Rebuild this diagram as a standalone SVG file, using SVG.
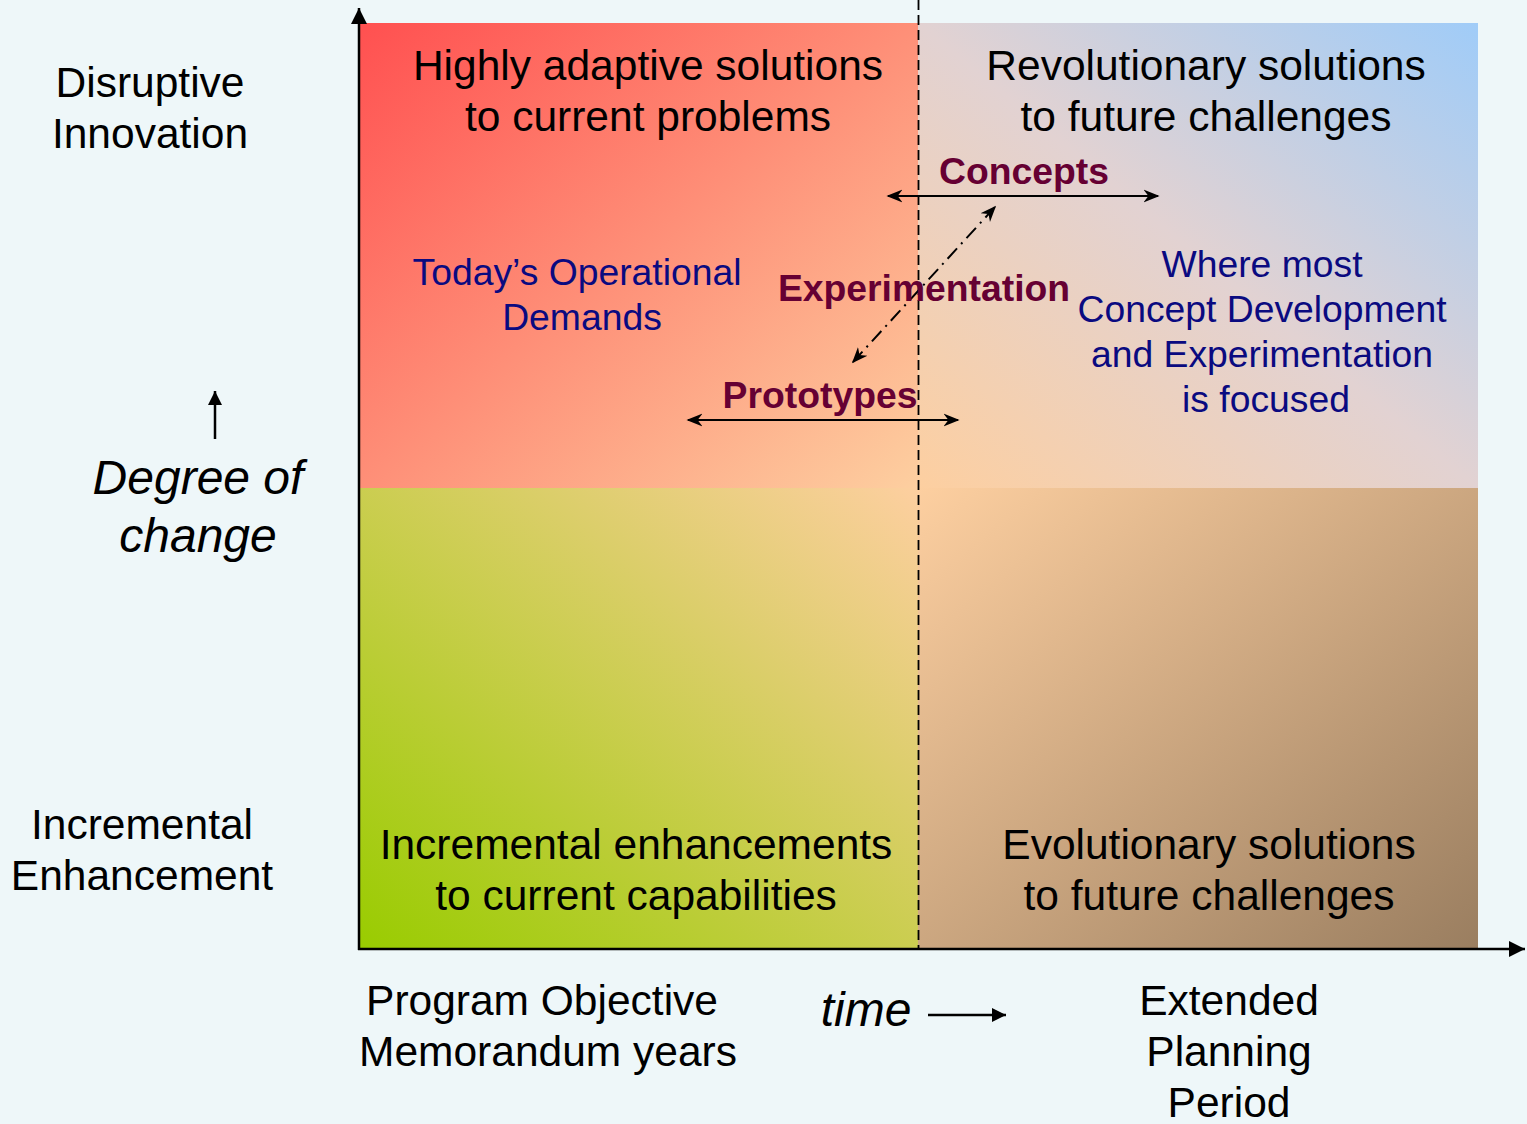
<svg xmlns="http://www.w3.org/2000/svg" width="1527" height="1124" viewBox="0 0 1527 1124">
<style>
.t{font-family:"Liberation Sans",Arial,sans-serif;fill:#000;text-anchor:middle}
.big{font-size:42.5px}
.blue{font-size:37.3px;fill:#0A0A80}
.red{font-size:37.3px;font-weight:bold;fill:#660033}
.it{font-style:italic;font-size:48px}
.ax{stroke:#000;stroke-width:2.5;fill:none}
.ln{stroke:#000;stroke-width:2;fill:none}
</style>
<defs>
<linearGradient id="gTL" x1="0" y1="0" x2="1" y2="1"><stop offset="0" stop-color="#FF5050"/><stop offset="1" stop-color="#FDCFA0"/></linearGradient>
<linearGradient id="gTR" x1="0" y1="1" x2="1" y2="0"><stop offset="0" stop-color="#FDCFA0"/><stop offset="0.5" stop-color="#E2D2D2"/><stop offset="1" stop-color="#A0CCF8"/></linearGradient>
<linearGradient id="gBL" x1="0" y1="1" x2="1" y2="0"><stop offset="0" stop-color="#99CC00"/><stop offset="1" stop-color="#FDCFA0"/></linearGradient>
<linearGradient id="gBR" x1="0" y1="0" x2="1" y2="1"><stop offset="0" stop-color="#FDCFA0"/><stop offset="1" stop-color="#9A7E60"/></linearGradient>
<marker id="ah" viewBox="0 0 10 10" refX="9" refY="5" markerWidth="16" markerHeight="16" markerUnits="userSpaceOnUse" orient="auto-start-reverse"><path d="M0,1 L10,5 L0,9 L3,5 Z" fill="#000"/></marker>
<marker id="ab" viewBox="0 0 10 10" refX="10" refY="5" markerWidth="16" markerHeight="16" markerUnits="userSpaceOnUse" orient="auto"><path d="M0,0 L10,5 L0,10 Z" fill="#000"/></marker>
<marker id="as" viewBox="0 0 10 10" refX="10" refY="5" markerWidth="14" markerHeight="14" markerUnits="userSpaceOnUse" orient="auto"><path d="M0,0 L10,5 L0,10 Z" fill="#000"/></marker>
</defs>
<rect width="1527" height="1124" fill="#EEF7F9"/>
<g id="quadrants">
<rect id="q-tl" x="360" y="23" width="558" height="465" fill="url(#gTL)"/>
<rect id="q-tr" x="918" y="23" width="560" height="465" fill="url(#gTR)"/>
<rect id="q-bl" x="360" y="488" width="558" height="461" fill="url(#gBL)"/>
<rect id="q-br" x="918" y="488" width="560" height="461" fill="url(#gBR)"/>
</g>
<g id="connectors">
<line class="ax" x1="359" y1="950" x2="359" y2="8" marker-end="url(#ab)"/>
<line class="ax" x1="358" y1="949" x2="1525" y2="949" marker-end="url(#ab)"/>
<line x1="918.5" y1="0" x2="918.5" y2="948" stroke="#000" stroke-width="1.8" stroke-dasharray="10,5"/>
<line class="ln" x1="888" y1="196" x2="1158" y2="196" marker-start="url(#ah)" marker-end="url(#ah)"/>
<line class="ln" x1="688" y1="420" x2="958" y2="420" marker-start="url(#ah)" marker-end="url(#ah)"/>
<line class="ln" x1="853" y1="362" x2="995" y2="207" stroke-dasharray="14,6,2,6" marker-start="url(#ah)" marker-end="url(#ah)"/>
<line class="ax" x1="215" y1="439" x2="215" y2="391" marker-end="url(#as)"/>
<line class="ax" x1="928" y1="1015" x2="1006" y2="1015" marker-end="url(#as)"/>
</g>
<g id="labels">
<text class="t big" x="648" y="80">Highly adaptive solutions</text>
<text class="t big" x="648" y="131">to current problems</text>
<text class="t big" x="1206" y="80">Revolutionary solutions</text>
<text class="t big" x="1206" y="131">to future challenges</text>
<text class="t big" x="636" y="859">Incremental enhancements</text>
<text class="t big" x="636" y="910">to current capabilities</text>
<text class="t big" x="1209" y="859">Evolutionary solutions</text>
<text class="t big" x="1209" y="910">to future challenges</text>
<text class="t big" x="150" y="97">Disruptive</text>
<text class="t big" x="150" y="148">Innovation</text>
<text class="t big" x="142" y="839">Incremental</text>
<text class="t big" x="142" y="890">Enhancement</text>
<text class="t it" x="198" y="494">Degree of</text>
<text class="t it" x="198" y="552">change</text>
<text class="t big" x="542" y="1015">Program Objective</text>
<text class="t big" x="548" y="1066">Memorandum years</text>
<text class="t it" x="866" y="1026">time</text>
<text class="t big" x="1229" y="1015">Extended</text>
<text class="t big" x="1229" y="1066">Planning</text>
<text class="t big" x="1229" y="1117">Period</text>
<text class="t blue" x="577" y="285">Today’s Operational</text>
<text class="t blue" x="582" y="330">Demands</text>
<text class="t blue" x="1262" y="277">Where most</text>
<text class="t blue" x="1262" y="322">Concept Development</text>
<text class="t blue" x="1262" y="367">and Experimentation</text>
<text class="t blue" x="1266" y="412">is focused</text>
<text class="t red" x="1024" y="184">Concepts</text>
<text class="t red" x="924" y="301">Experimentation</text>
<text class="t red" x="820" y="408">Prototypes</text>
</g>
</svg>
